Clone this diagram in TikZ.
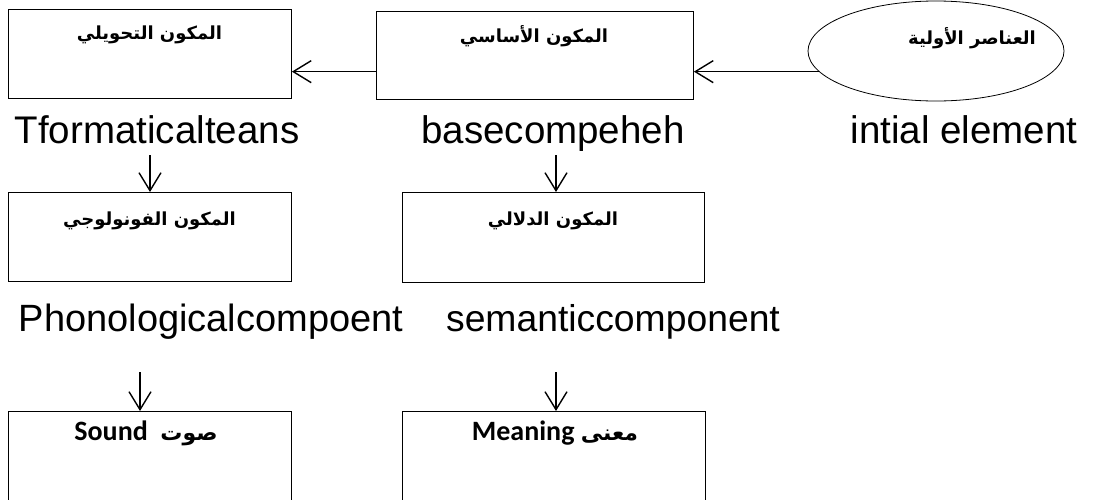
\documentclass[tikz,border=0pt]{standalone}
\usepackage{fontspec}
\setmainfont{Liberation Sans}
\newfontfamily\arabicfont[Script=Arabic]{DejaVu Sans}
\newfontfamily\calibfont{Carlito}
\TeXXeTstate=1
\usetikzlibrary{arrows.meta,shapes.geometric}

\begin{document}
\begin{tikzpicture}[x=1pt,y=-1pt,
  box/.style={draw, line width=0.9pt, inner sep=0pt, anchor=north west},
  artext/.style={font=\arabicfont\bfseries\fontsize{18}{20}\selectfont, inner sep=0pt},
  entext/.style={font=\fontsize{38.5}{40}\selectfont, anchor=base, inner sep=0pt},
  outtext/.style={font=\calibfont\bfseries\fontsize{28}{30}\selectfont, inner sep=0pt},
  link/.style={line width=1.4pt, -{Straight Barb[length=18pt,width=22pt,line width=1.4pt]}}
]
\clip (0,0) rectangle (1108,499);
\fill[white] (0,0) rectangle (1108,499);

% top row
\node[box, minimum width=283pt, minimum height=89pt] (b1) at (8,9) {};
\node[box, minimum width=317pt, minimum height=88pt] (b2) at (376,11) {};
\node[draw, line width=0.8pt, ellipse, minimum width=256pt, minimum height=100pt, inner sep=0pt] (e) at (936,51) {};

\node[artext] (t1) at (149.5,35) {\beginR المكون التحويلي\endR};
\node[artext] (t2) at (534,36) {\beginR المكون الأساسي\endR};
\node[artext] (t3) at (972,38) {\beginR العناصر الأولية\endR};

\draw[link] (e.190) -- (e.190 -| b2.east);
\draw[link] (b2.west |- e.190) -- (b1.east |- e.190);

\node[entext] (l1) at (157,143) {Tformaticalteans};
\node[entext] (l2) at (553,143) {basecompeheh};
\node[entext] (l3) at (964,143) {intial element};

% middle row
\node[box, minimum width=283pt, minimum height=89pt] (b3) at (8,192) {};
\node[box, minimum width=302pt, minimum height=90pt] (b4) at (402,192) {};

\node[artext] (t4) at (149.5,221) {\beginR المكون الفونولوجي\endR};
\node[artext] (t5) at (553,221) {\beginR المكون الدلالي\endR};

\coordinate (s1) at (150,155);
\coordinate (s2) at (556,155);
\draw[link] (s1) -- (s1 |- b3.north);
\draw[link] (s2) -- (s2 |- b4.north);

\node[entext, font=\fontsize{38}{40}\selectfont] (l4) at (211,331) {Phonologicalcompoent};
\node[entext, font=\fontsize{37.3}{40}\selectfont] (l5) at (613,331) {semanticcomponent};

% bottom row
\node[box, minimum width=283pt, minimum height=130pt] (b5) at (8,411) {};
\node[box, minimum width=303pt, minimum height=130pt] (b6) at (402,411) {};

\node[outtext] (t6) at (146,433) {Sound~~{\arabicfont\fontsize{22}{24}\selectfont\beginR صوت\endR}};
\node[outtext] (t7) at (555,433) {Meaning {\arabicfont\fontsize{22}{24}\selectfont\beginR معنى\endR}};

\coordinate (s3) at (140,372);
\coordinate (s4) at (556,372);
\draw[link] (s3) -- (s3 |- b5.north);
\draw[link] (s4) -- (s4 |- b6.north);
\end{tikzpicture}
\end{document}
